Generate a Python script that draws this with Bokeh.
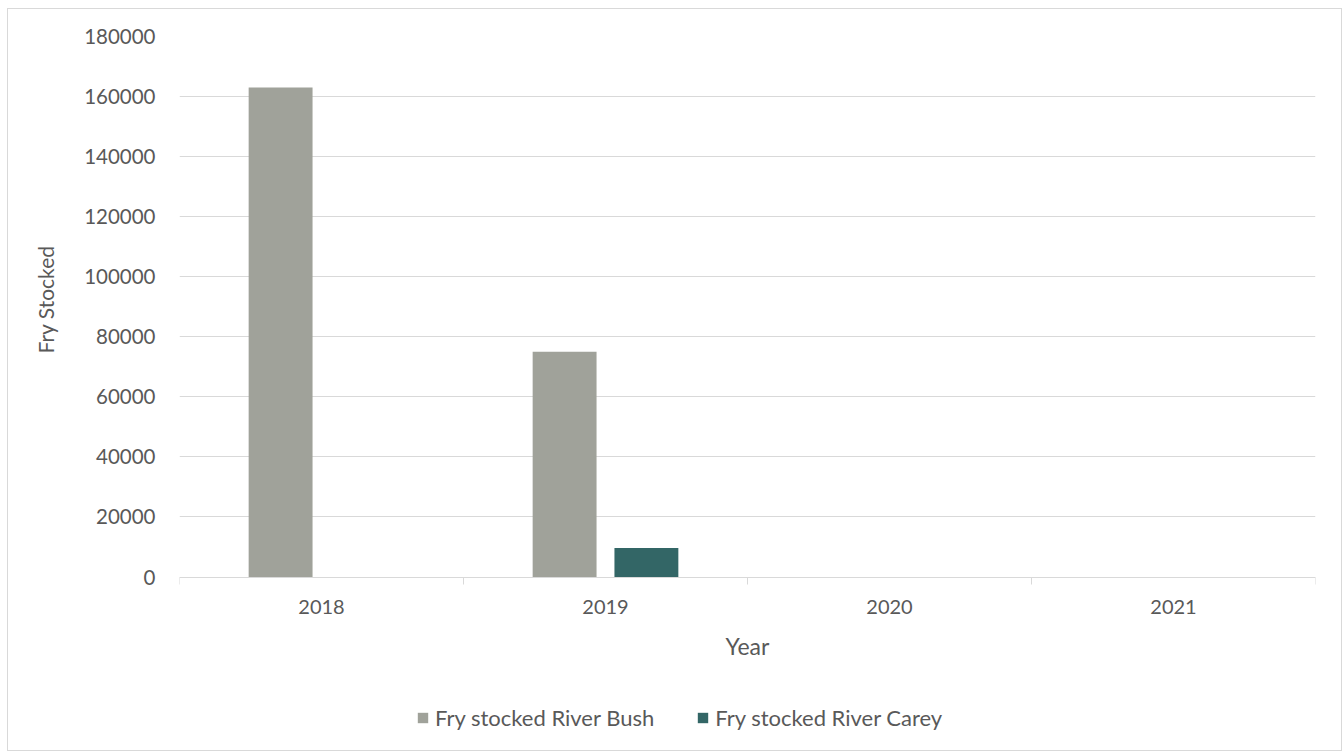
from bokeh.plotting import figure
from bokeh.models import Range1d, FixedTicker, Legend, LegendItem, ColumnDataSource, NumeralTickFormatter, Title
from bokeh.embed import file_html
from bokeh.resources import INLINE

years = ["2018", "2019", "2020", "2021"]
bush = [163000, 75000, 0, 0]
carey = [0, 9700, 0, 0]
y_ticks = [0, 20000, 40000, 60000, 80000, 100000, 120000, 140000, 160000, 180000]

FONT = "Lato"
TXT = "#595959"
GRID = "#d9d9d9"

# frame spans 706 px; value axis 0..180000 occupies the top 539 px
y_max = 180000
y_min = y_max - y_max * 706 / 539

idx = [i + 0.5 for i in range(len(years))]
src = ColumnDataSource(dict(
    x_bush=[v - 0.144 for v in idx],
    x_carey=[v + 0.144 for v in idx],
    bush=bush, carey=carey,
))

p = figure(width=1335, height=743, output_backend="svg", toolbar_location=None,
           x_range=Range1d(0, len(years)), y_range=Range1d(y_min, y_max),
           min_border_left=169, min_border_right=28, min_border_top=27,
           min_border_bottom=8)
p.styles = {"border": "1px solid #d9d9d9", "box-sizing": "border-box",
            "margin-left": "7px", "margin-top": "8px"}
p.outline_line_color = None
p.background_fill_color = "white"
p.border_fill_color = "white"

r1 = p.vbar(x="x_bush", top="bush", bottom=0, width=0.225, source=src,
            fill_color="#A0A29A", line_color=None)
r2 = p.vbar(x="x_carey", top="carey", bottom=0, width=0.225, source=src,
            fill_color="#336666", line_color=None)

# x axis, pinned at value 0
xa = p.xaxis[0]
xa.fixed_location = 0
xa.ticker = FixedTicker(ticks=idx, minor_ticks=list(range(len(years) + 1)))
xa.major_label_overrides = {v: y for v, y in zip(idx, years)}
xa.major_tick_line_color = None
xa.major_tick_out = 0
xa.major_tick_in = 0
xa.minor_tick_line_color = GRID
xa.minor_tick_out = 7
xa.minor_tick_in = 0
xa.axis_line_color = GRID
xa.major_label_text_font = FONT
xa.major_label_text_font_size = "20px"
xa.major_label_text_color = TXT
xa.major_label_standoff = 16
xa.axis_label = "Year"
xa.axis_label_text_font = FONT
xa.axis_label_text_font_size = "23px"
xa.axis_label_text_font_style = "normal"
xa.axis_label_text_color = TXT
xa.axis_label_standoff = 14

# y axis
ya = p.yaxis[0]
ya.ticker = FixedTicker(ticks=y_ticks)
ya.formatter = NumeralTickFormatter(format="0")
ya.axis_line_color = None
ya.major_tick_line_color = None
ya.minor_tick_line_color = None
ya.major_tick_out = 0
ya.major_label_text_font = FONT
ya.major_label_text_font_size = "20.5px"
ya.major_label_text_color = TXT
ya.major_label_standoff = 24

# y-axis title, centred on the 0..180000 part of the frame
ytitle = Title(text="Fry Stocked", align="right", offset=209,
               vertical_align="middle", standoff=46,
               text_font=FONT, text_font_size="21px", text_font_style="normal",
               text_color=TXT)
p.add_layout(ytitle, "left")

p.xgrid.grid_line_color = None
p.ygrid.grid_line_color = GRID
p.ygrid.grid_line_width = 1
p.ygrid.ticker = FixedTicker(ticks=y_ticks)

legend = Legend(items=[LegendItem(label="Fry stocked River Bush", renderers=[r1]),
                       LegendItem(label="Fry stocked River Carey", renderers=[r2])],
                orientation="horizontal", location=(237, 13),
                glyph_width=13, glyph_height=13, label_standoff=6, spacing=42,
                padding=0, margin=0, border_line_color=None,
                background_fill_alpha=0,
                label_text_font=FONT, label_text_font_size="22px",
                label_text_color=TXT)
p.add_layout(legend, "center")

open("out.html", "w").write(file_html(p, INLINE))
